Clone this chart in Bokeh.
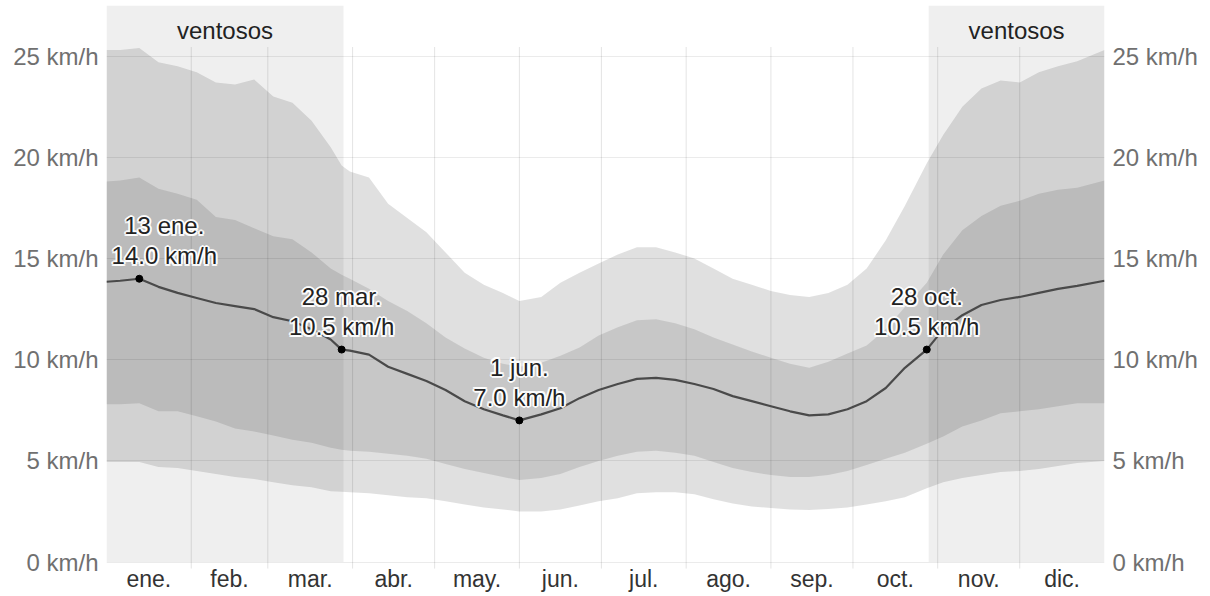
from bokeh.plotting import figure
from bokeh.models import Range1d, LinearAxis, FixedTicker, ColumnDataSource
from bokeh.embed import file_html
from bokeh.resources import INLINE
from bokeh.core.properties import value

# ---------------- data (day of year, Jan 1 = 0) ----------------
days = [0, 5, 12, 19, 26, 33, 40, 47, 54, 61, 68, 75, 82, 86, 89, 96, 103, 110, 117, 124,
        131, 138, 145, 151, 159, 166, 173, 180, 187, 194, 201, 208, 215, 222, 229, 236, 243,
        250, 257, 264, 271, 278, 285, 292, 300, 306, 313, 320, 327, 334, 341, 348, 355, 365]

wind_avg = [13.85, 13.9, 14.0, 13.6, 13.3, 13.05, 12.8, 12.65, 12.5, 12.1, 11.9, 11.5, 11.0, 10.5,
            10.45, 10.25, 9.65, 9.3, 8.95, 8.5, 7.95, 7.55, 7.25, 7.0, 7.3, 7.6, 8.1, 8.5, 8.8, 9.05,
            9.1, 9.0, 8.8, 8.55, 8.2, 7.95, 7.7, 7.45, 7.25, 7.3, 7.55, 7.95, 8.6, 9.6, 10.5, 11.5,
            12.2, 12.7, 12.95, 13.1, 13.3, 13.5, 13.65, 13.9]

p90 = [25.3, 25.3, 25.4, 24.7, 24.5, 24.2, 23.7, 23.6, 23.85, 23.0, 22.7, 21.8, 20.5, 19.6,
       19.3, 19.0, 17.7, 17.0, 16.3, 15.3, 14.3, 13.7, 13.3, 12.9, 13.1, 13.8, 14.3, 14.75, 15.2,
       15.55, 15.55, 15.3, 15.0, 14.5, 14.0, 13.7, 13.4, 13.2, 13.1, 13.3, 13.7, 14.5, 15.9, 17.6,
       19.7, 21.1, 22.5, 23.4, 23.8, 23.7, 24.2, 24.5, 24.75, 25.3]

p75 = [18.8, 18.85, 19.0, 18.45, 18.2, 17.9, 17.05, 16.9, 16.5, 16.1, 15.95, 15.3, 14.5, 14.2,
       14.0, 13.5, 12.9, 12.4, 11.8, 11.1, 10.55, 10.1, 9.8, 9.65, 9.85, 10.2, 10.6, 11.2, 11.6,
       11.95, 12.0, 11.8, 11.5, 11.1, 10.75, 10.4, 10.1, 9.8, 9.6, 9.9, 10.3, 10.7, 11.5, 12.6,
       13.8, 15.2, 16.4, 17.1, 17.6, 17.85, 18.2, 18.4, 18.5, 18.85]

p25 = [7.8, 7.8, 7.85, 7.45, 7.45, 7.2, 6.95, 6.6, 6.45, 6.25, 6.05, 5.9, 5.65, 5.55, 5.5, 5.45,
       5.35, 5.25, 5.1, 4.85, 4.6, 4.4, 4.2, 4.05, 4.15, 4.35, 4.7, 5.0, 5.25, 5.45, 5.5, 5.4,
       5.25, 4.95, 4.65, 4.45, 4.3, 4.2, 4.2, 4.3, 4.5, 4.8, 5.1, 5.4, 5.85, 6.2, 6.7, 7.0, 7.35,
       7.45, 7.55, 7.7, 7.85, 7.85]

p10 = [4.95, 4.95, 4.95, 4.7, 4.65, 4.5, 4.35, 4.2, 4.1, 3.95, 3.8, 3.7, 3.5, 3.47, 3.45, 3.4,
       3.3, 3.2, 3.15, 3.0, 2.85, 2.7, 2.6, 2.5, 2.5, 2.6, 2.8, 3.0, 3.15, 3.4, 3.45, 3.45, 3.35,
       3.1, 2.9, 2.75, 2.67, 2.6, 2.57, 2.62, 2.7, 2.85, 3.0, 3.2, 3.65, 3.95, 4.15, 4.3, 4.45,
       4.5, 4.6, 4.75, 4.9, 5.0]

month_starts = [0, 31, 59, 90, 120, 151, 181, 212, 243, 273, 304, 334, 365]
month_labels = ["ene.", "feb.", "mar.", "abr.", "may.", "jun.", "jul.", "ago.",
                "sep.", "oct.", "nov.", "dic."]

y_ticks = [0, 5, 10, 15, 20, 25]
y_labels = ["0 km/h", "5 km/h", "10 km/h", "15 km/h", "20 km/h", "25 km/h"]

windy_start = [0, 300.7]
windy_end = [86.7, 365]
windy_text = ["ventosos", "ventosos"]

ann_days = [12, 86, 151, 300]
ann_vals = [14.0, 10.5, 7.0, 10.5]
ann_dates = ["13 ene.", "28 mar.", "1 jun.", "28 oct."]

# ---------------- styles ----------------
FONT = "Liberation Sans"
FS = "24px"
Y_MIN, Y_MAX = -1.70, 27.5     # frame runs down to the bottom of the page
GRID_BOTTOM = -0.32
GRID_TOP = 25.45
ann_xoff = [25, 0, 0, 0]

p = figure(frame_width=998, frame_height=591,
           x_range=Range1d(0, 365), y_range=Range1d(Y_MIN, Y_MAX),
           output_backend="svg", toolbar_location=None,
           min_border_left=106, min_border_right=106, min_border_top=5, min_border_bottom=0,
           outline_line_color=None, background_fill_color="white", border_fill_color="white")

# windy season backgrounds (translucent so the grid shows through)
p.quad(left=windy_start, right=windy_end, bottom=0, top=Y_MAX,
       fill_color="black", fill_alpha=0.063, line_color=None)

# percentile bands
p.varea(x=days, y1=p10, y2=p90, fill_color="black", fill_alpha=0.12)
p.varea(x=days, y1=p25, y2=p75, fill_color="black", fill_alpha=0.11)

# vertical month grid lines
inner = month_starts[1:-1]
p.segment(x0=inner, y0=[GRID_BOTTOM] * len(inner), x1=inner, y1=[GRID_TOP] * len(inner),
          line_color="black", line_alpha=0.11, line_width=1)

# average line
p.line(days, wind_avg, line_color="#4a4a4a", line_width=2.2)

# annotated points
ann_src = ColumnDataSource(dict(x=ann_days, y=ann_vals))
p.scatter(x="x", y="y", source=ann_src, size=7, color="black")

halo = [(-2, 0), (2, 0), (0, -2), (0, 2), (-1.5, -1.5), (1.5, -1.5), (-1.5, 1.5), (1.5, 1.5)]
for dx, dy in halo + [(0, 0)]:
    main = (dx, dy) == (0, 0)
    col = "#222222" if main else "white"
    alpha = 1.0 if main else 0.85
    src = ColumnDataSource(dict(x=ann_days, y=ann_vals, d=ann_dates,
                                v=["%.1f km/h" % v for v in ann_vals],
                                xo=[o + dx for o in ann_xoff]))
    p.text(x="x", y="y", text="d", source=src, x_offset="xo", y_offset=-53 + dy,
           text_font=value(FONT), text_font_size=FS, text_color=col, text_alpha=alpha,
           text_align="center", text_baseline="middle")
    p.text(x="x", y="y", text="v", source=src, x_offset="xo", y_offset=-23 + dy,
           text_font=value(FONT), text_font_size=FS, text_color=col, text_alpha=alpha,
           text_align="center", text_baseline="middle")

# "ventosos" labels
wsrc = ColumnDataSource(dict(x=[(a + b) / 2 for a, b in zip(windy_start, windy_end)],
                             y=[Y_MAX, Y_MAX], t=windy_text))
p.text(x="x", y="y", text="t", source=wsrc, y_offset=25,
       text_font=value(FONT), text_font_size=FS, text_color="#222222",
       text_align="center", text_baseline="middle")

# month labels, centred in each month below the zero line
month_mid = [(a + b) / 2 for a, b in zip(month_starts[:-1], month_starts[1:])]
msrc = ColumnDataSource(dict(x=month_mid, y=[0] * len(month_mid), t=month_labels))
p.text(x="x", y="y", text="t", source=msrc, y_offset=17,
       text_font=value(FONT), text_font_size="23px", text_color="#333333",
       text_align="center", text_baseline="middle")

# grids
p.xgrid.visible = False
p.xaxis.visible = False
p.ygrid.ticker = FixedTicker(ticks=y_ticks)
p.ygrid.grid_line_color = "black"
p.ygrid.grid_line_alpha = 0.08

# y axes on both sides
def style_axis(ax, color):
    ax.axis_line_color = None
    ax.major_tick_line_color = None
    ax.minor_tick_line_color = None
    ax.major_tick_out = 0
    ax.major_tick_in = 0
    ax.major_label_text_font = FONT
    ax.major_label_text_font_size = FS
    ax.major_label_text_color = color
    ax.major_label_standoff = 8

ya = p.yaxis[0]
ya.ticker = FixedTicker(ticks=y_ticks)
ya.major_label_overrides = {t: l for t, l in zip(y_ticks, y_labels)}
style_axis(ya, "#707070")

yr = LinearAxis(ticker=FixedTicker(ticks=y_ticks),
                major_label_overrides={t: l for t, l in zip(y_ticks, y_labels)})
style_axis(yr, "#707070")
p.add_layout(yr, "right")

open("out.html", "w").write(file_html(p, INLINE))
